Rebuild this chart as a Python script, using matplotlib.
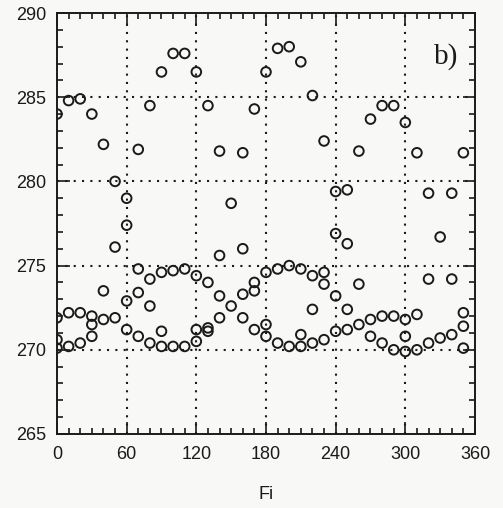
import matplotlib
matplotlib.use("Agg")
import matplotlib.pyplot as plt
from matplotlib.ticker import MultipleLocator

# Angle Fi (degrees) and the measured values at each angle
fi = [0, 10, 20, 30, 40, 50, 60, 70, 80, 90, 100, 110, 120, 130, 140, 150, 160, 170,
      180, 190, 200, 210, 220, 230, 240, 250, 260, 270, 280, 290, 300, 310, 320, 330, 340, 350]
values = [
    [284.0, 271.9, 270.6, 270.1],
    [284.8, 272.2, 270.2],
    [284.9, 272.2, 270.4],
    [284.0, 272.0, 271.5, 270.8],
    [282.2, 273.5, 271.8],
    [280.0, 276.1, 271.9],
    [279.0, 277.4, 272.9, 271.2],
    [281.9, 274.8, 273.4, 270.8],
    [284.5, 274.2, 272.6, 270.4],
    [286.5, 274.6, 271.1, 270.2],
    [287.6, 274.7, 270.2],
    [287.6, 274.8, 270.2],
    [286.5, 274.4, 271.2, 270.5],
    [284.5, 274.0, 271.3, 271.1],
    [281.8, 275.6, 273.2, 271.9],
    [278.7, 272.6],
    [281.7, 276.0, 273.3, 271.9],
    [284.3, 274.0, 273.5, 271.2],
    [286.5, 274.6, 271.5, 270.8],
    [287.9, 274.8, 270.4],
    [288.0, 275.0, 270.2],
    [287.1, 274.8, 270.9, 270.2],
    [285.1, 274.4, 272.4, 270.4],
    [282.4, 274.6, 273.9, 270.6],
    [279.4, 276.9, 273.2, 271.1],
    [279.5, 276.3, 272.4, 271.2],
    [281.8, 273.9, 271.5],
    [283.7, 271.8, 270.8],
    [284.5, 272.0, 270.4],
    [284.5, 272.0, 270.0],
    [283.5, 271.8, 270.8, 269.9],
    [281.7, 272.1, 270.0],
    [279.3, 274.2, 270.4],
    [276.7, 270.7],
    [279.3, 274.2, 270.9],
    [281.7, 272.2, 271.4, 270.1],
]
x_ticks = [0, 60, 120, 180, 240, 300, 360]
y_ticks = [265, 270, 275, 280, 285, 290]
x_label = "Fi"
panel_label = "b)"

xs = [a for a, vals in zip(fi, values) for _ in vals]
ys = [v for vals in values for v in vals]

ink = "#1a1a1a"
bg = "#f8f8f6"
plt.rcParams["font.family"] = ["Liberation Sans", "DejaVu Sans"]
fig = plt.figure(figsize=(5.03, 5.08), dpi=100, facecolor=bg)
ax = fig.add_axes([0.1133, 0.1457, 0.831, 0.8287], facecolor=bg)

ax.scatter(xs, ys, s=48, facecolors="none", edgecolors=ink, linewidths=1.4, zorder=3)

ax.set_xlim(0, 360)
ax.set_ylim(265, 290)
ax.set_xticks(x_ticks)
ax.set_yticks(y_ticks)
ax.xaxis.set_minor_locator(MultipleLocator(10))
ax.yaxis.set_minor_locator(MultipleLocator(1))
ax.tick_params(which="both", direction="in", top=True, right=True, colors=ink,
               labelsize=13, width=1.2)
ax.tick_params(which="major", length=9)
ax.tick_params(which="minor", length=4.5)
ax.tick_params(axis="x", pad=9)
ax.tick_params(axis="y", pad=8)
for s in ax.spines.values():
    s.set_linewidth(1.4)
    s.set_color(ink)

for gx in x_ticks[1:-1]:
    ax.axvline(gx, color=ink, linestyle=(0, (1, 3)), linewidth=1.5, zorder=1)
for gy in y_ticks[1:-1]:
    ax.axhline(gy, color=ink, linestyle=(0, (1, 3)), linewidth=1.5, zorder=1)

ax.set_xlabel(x_label, fontsize=13, color=ink, labelpad=16)
ax.text(325, 287.4, panel_label, fontsize=21, family="Liberation Serif",
        color=ink, va="center", ha="left")

fig.savefig("out.png", dpi=100, facecolor=bg)
